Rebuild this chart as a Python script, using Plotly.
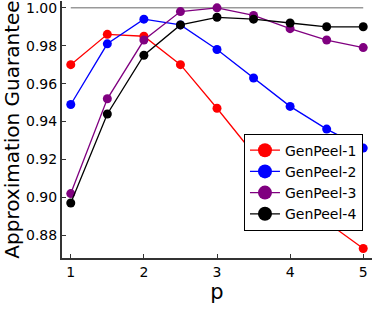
import plotly.graph_objects as go

p = [1, 1.5, 2, 2.5, 3, 3.5, 4, 4.5, 5]
genpeel1 = [0.970, 0.986, 0.985, 0.970, 0.947, 0.923, 0.903, 0.887, 0.873]
genpeel2 = [0.949, 0.981, 0.994, 0.991, 0.978, 0.963, 0.948, 0.936, 0.926]
genpeel3 = [0.902, 0.952, 0.983, 0.998, 1.000, 0.996, 0.989, 0.983, 0.979]
genpeel4 = [0.897, 0.944, 0.975, 0.991, 0.995, 0.994, 0.992, 0.990, 0.990]
names = ["GenPeel-1", "GenPeel-2", "GenPeel-3", "GenPeel-4"]
colors = ["#ff0000", "#0000ff", "#800080", "#000000"]
series = [genpeel1, genpeel2, genpeel3, genpeel4]
ref_x = [1, 5]
ref_y = [1.0, 1.0]

fig = go.Figure()
fig.add_trace(go.Scatter(x=ref_x, y=ref_y, mode="lines",
                         line=dict(color="#999999", width=1.5),
                         showlegend=False, hoverinfo="skip"))
for n, c, s in zip(names, colors, series):
    fig.add_trace(go.Scatter(x=p, y=s, mode="lines+markers", name=n,
                             line=dict(color=c, width=1.3),
                             marker=dict(color=c, size=9),
                             showlegend=False))
for n, c in zip(names, colors):
    fig.add_trace(go.Scatter(x=[None], y=[None], mode="lines+markers", name=n,
                             line=dict(color=c, width=1.3),
                             marker=dict(color=c, size=14)))

font = "DejaVu Sans"
fig.update_layout(
    width=374, height=310,
    margin=dict(l=62, r=2, t=1, b=52),
    paper_bgcolor="white", plot_bgcolor="white",
    font=dict(family=font, color="black", size=14),
    legend=dict(x=0.587, y=0.484, xanchor="left", yanchor="top",
                bordercolor="black", borderwidth=1, bgcolor="white",
                font=dict(family=font, size=14, color="black"),
                itemwidth=30, tracegroupgap=0),
    xaxis=dict(range=[0.88, 5.12], tickvals=[1, 2, 3, 4, 5], automargin=False,
               showgrid=False, zeroline=False, showline=True,
               linecolor="#333333", linewidth=2, ticks="inside", ticklen=4,
               tickcolor="#333333", tickfont=dict(size=14),
               title=dict(text="p", font=dict(size=21), standoff=6)),
    yaxis=dict(range=[0.868, 1.0036], automargin=False, ticklabeloverflow="allow",
               tickvals=[0.88, 0.90, 0.92, 0.94, 0.96, 0.98, 1.00],
               ticktext=["0.88", "0.90", "0.92", "0.94", "0.96", "0.98", "1.00"],
               showgrid=False, zeroline=False, showline=True,
               linecolor="#333333", linewidth=2, ticks="inside", ticklen=4,
               tickcolor="#333333", tickfont=dict(size=14),
               title=dict(text="Approximation Guarantee", font=dict(size=20), standoff=4)),
)
fig.write_html("out.html", config={"displayModeBar": False},
               post_script="document.body.style.margin='0';")
